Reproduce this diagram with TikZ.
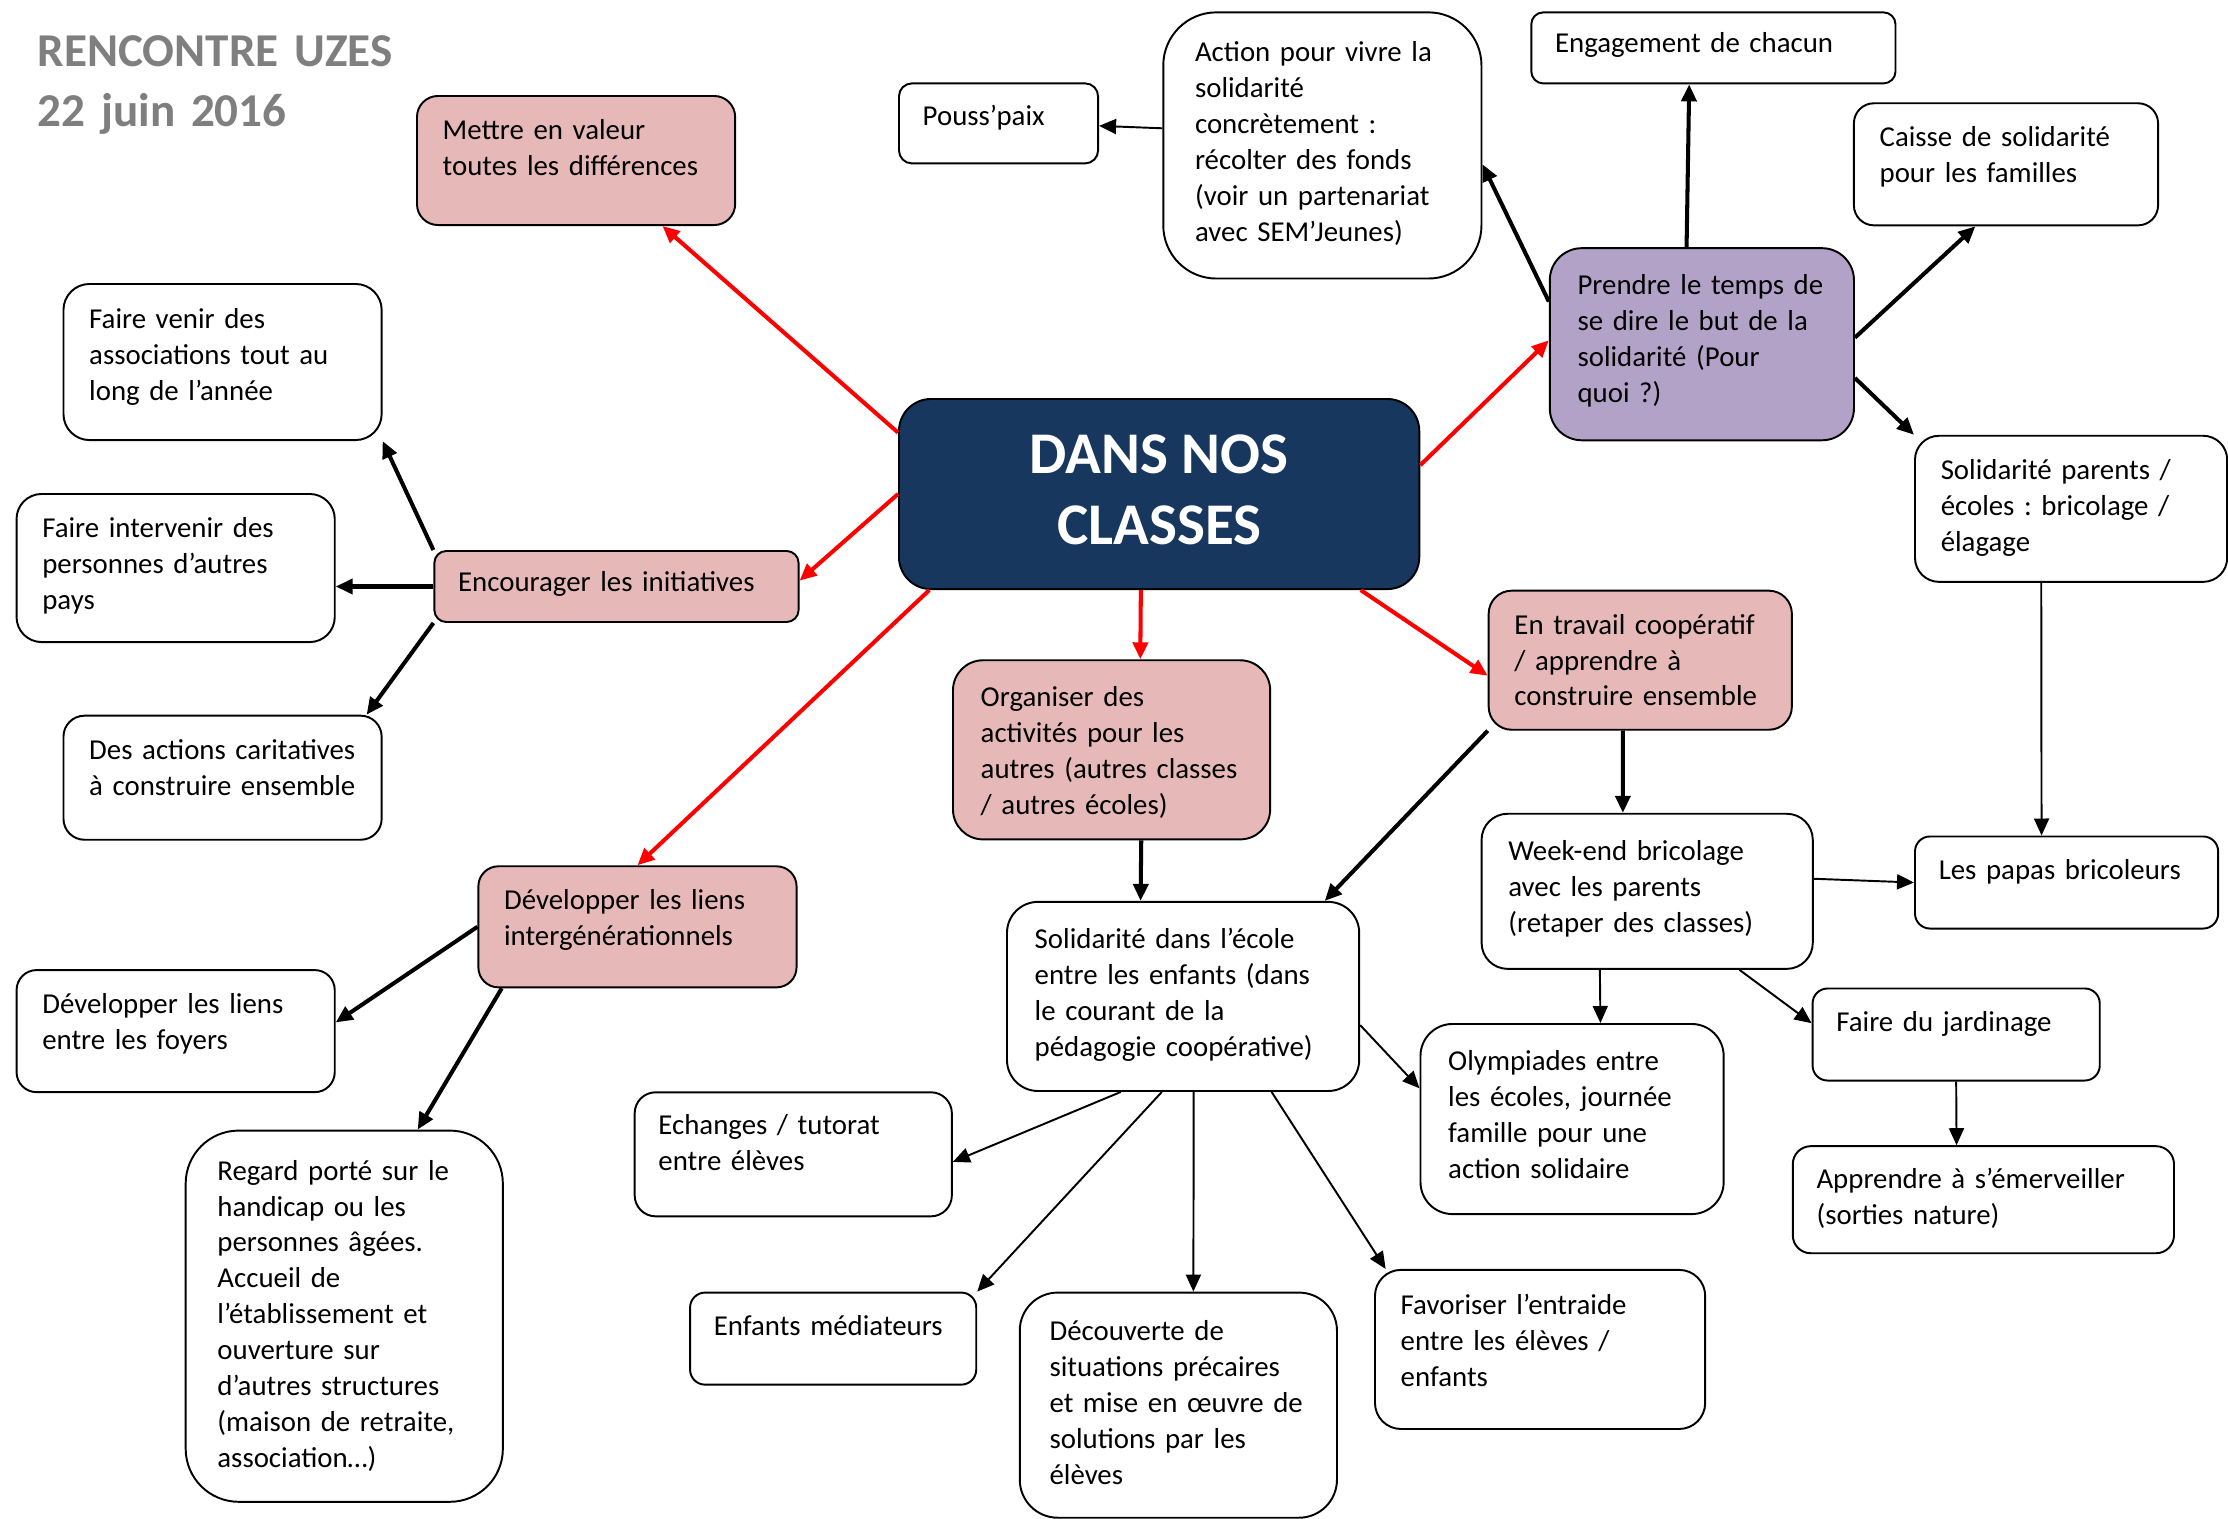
\documentclass[tikz,border=0pt]{standalone}
\usepackage{fontspec}
\setmainfont{Carlito}
\usepackage{tikz}
\usetikzlibrary{arrows.meta,calc}

\definecolor{cRose}{HTML}{E6B9B8}
\definecolor{cMauve}{HTML}{B3A2C7}
\definecolor{cMarine}{HTML}{17375E}
\definecolor{cGris}{HTML}{7F7F7F}
\newcommand{\corps}{\fontsize{8.2}{10.2}\selectfont}
\frenchspacing

\begin{document}
\begin{tikzpicture}[x=0.01cm, y=-0.01cm,
    >={Triangle[length=0.17cm,width=0.15cm]},
    box/.style={draw, line width=0.55pt, anchor=north west, inner sep=0pt, rounded corners=#1},
    box/.default=0.2cm,
    pinkbox/.style={fill=cRose},
    txt/.style={anchor=north west, text width=3.6cm, align=left, font=\corps,
      text height=6.2pt, inner xsep=0.26cm, inner ysep=0.22cm},
    txts/.style={txt, inner xsep=0.24cm, inner ysep=0.21cm},
    txtm/.style={txt, inner xsep=0.28cm, inner ysep=0.25cm},
    txtl/.style={txt, inner xsep=0.32cm, inner ysep=0.28cm},
    rouge/.style={->, draw=red, line width=1.15pt},
    noir/.style={->, line width=1.15pt},
    fin/.style={->, line width=0.55pt}]
    \useasboundingbox (0,0) rectangle (2228,1518);

    \node[anchor=base west, text width=6cm, align=left, inner sep=0pt, text=cGris,
      font=\fontsize{13.4}{17}\selectfont\bfseries] (titre) at (37,66.6) {RENCONTRE UZES\\22 juin 2016};

    \node[box=0.32cm, fill=cMarine, minimum width=5.2cm, minimum height=1.9cm,
      label={[anchor=center, align=center, yshift=0.04cm, text=white,
        font=\fontsize{16.8}{20.2}\selectfont\bfseries]center:{DANS NOS\\CLASSES}}] (centre) at (898,398) {};

    \node[box=0.21cm, pinkbox, minimum width=3.18cm, minimum height=1.29cm,
      label={[txt]north west:{Mettre en valeur\\toutes les différences}}] (mettre) at (416,95) {};
    \node[box=0.26cm, minimum width=3.18cm, minimum height=1.56cm,
      label={[txt, inner ysep=0.23cm]north west:{Faire venir des\\associations tout au\\long de l’année}}] (venir) at (62.5,283) {};
    \node[box=0.25cm, minimum width=3.18cm, minimum height=1.48cm,
      label={[txt]north west:{Faire intervenir des\\personnes d’autres\\pays}}] (intervenir) at (15.6,493) {};
    \node[box=0.12cm, pinkbox, minimum width=3.64cm, minimum height=0.71cm,
      label={[txts, inner ysep=0.19cm]north west:{Encourager les initiatives}}] (encourager) at (433.4,550) {};
    \node[box=0.21cm, minimum width=3.18cm, minimum height=1.24cm,
      label={[txt]north west:{Des actions caritatives\\à construire ensemble}}] (actions) at (62.5,714.7) {};
    \node[box=0.2cm, pinkbox, minimum width=3.18cm, minimum height=1.21cm,
      label={[txt]north west:{Développer les liens\\intergénérationnels}}] (liens) at (477.4,865.3) {};
    \node[box=0.2cm, minimum width=3.18cm, minimum height=1.22cm,
      label={[txt]north west:{Développer les liens\\entre les foyers}}] (foyers) at (15.6,969.1) {};
    \node[box=0.53cm, minimum width=3.17cm, minimum height=3.71cm,
      label={[txtl]north west:{Regard porté sur le\\handicap ou les\\personnes âgées.\\Accueil de\\l’établissement et\\ouverture sur\\d’autres structures\\(maison de retraite,\\association…)}}] (regard) at (184.7,1129.6) {};

    \node[box=0.13cm, minimum width=1.99cm, minimum height=0.8cm,
      label={[txts]north west:{Pouss’paix}}] (pousspaix) at (898,82.4) {};
    \node[box=0.53cm, minimum width=3.18cm, minimum height=2.66cm,
      label={[txtl]north west:{Action pour vivre la\\solidarité\\concrètement :\\récolter des fonds\\(voir un partenariat\\avec SEM’Jeunes)}}] (action) at (1162.3,11.4) {};
    \node[box=0.12cm, minimum width=3.64cm, minimum height=0.71cm,
      label={[txts, inner ysep=0.19cm]north west:{Engagement de chacun}}] (engagement) at (1530.3,11.4) {};
    \node[box=0.2cm, minimum width=3.04cm, minimum height=1.22cm,
      label={[txt]north west:{Caisse de solidarité\\pour les familles}}] (caisse) at (1852.9,102.3) {};
    \node[box=0.32cm, fill=cMauve, minimum width=3.04cm, minimum height=1.92cm,
      label={[txtm]north west:{Prendre le temps de\\se dire le but de la\\solidarité (Pour\\quoi ?)}}] (prendre) at (1548.8,247.2) {};
    \node[box=0.24cm, minimum width=3.12cm, minimum height=1.46cm,
      label={[txt]north west:{Solidarité parents /\\écoles : bricolage /\\élagage}}] (parents) at (1914,434.8) {};

    \node[box=0.23cm, pinkbox, minimum width=3.03cm, minimum height=1.39cm,
      label={[txt]north west:{En travail coopératif\\/ apprendre à\\construire ensemble}}] (travail) at (1487.7,589.7) {};
    \node[box=0.3cm, pinkbox, minimum width=3.17cm, minimum height=1.79cm,
      label={[txtm]north west:{Organiser des\\activités pour les\\autres (autres classes\\/ autres écoles)}}] (organiser) at (952,659.3) {};
    \node[box=0.31cm, minimum width=3.52cm, minimum height=1.89cm,
      label={[txtm]north west:{Solidarité dans l’école\\entre les enfants (dans\\le courant de la\\pédagogie coopérative)}}] (ecole) at (1006,900.9) {};
    \node[box=0.26cm, minimum width=3.31cm, minimum height=1.55cm,
      label={[txtm, inner xsep=0.27cm]north west:{Week-end bricolage\\avec les parents\\(retaper des classes)}}] (weekend) at (1480.6,812.8) {};
    \node[box=0.15cm, minimum width=3.03cm, minimum height=0.92cm,
      label={[txts]north west:{Les papas bricoleurs}}] (papas) at (1914,835.5) {};
    \node[box=0.15cm, minimum width=2.87cm, minimum height=0.92cm,
      label={[txts]north west:{Faire du jardinage}}] (jardinage) at (1811.6,987.5) {};
    \node[box=0.18cm, minimum width=3.81cm, minimum height=1.07cm,
      label={[txts]north west:{Apprendre à s’émerveiller\\(sorties nature)}}] (merveille) at (1791.8,1145.2) {};
    \node[box=0.32cm, minimum width=3.03cm, minimum height=1.9cm,
      label={[txtm]north west:{Olympiades entre\\les écoles, journée\\famille pour une\\action solidaire}}] (olympiades) at (1419.5,1023) {};
    \node[box=0.21cm, minimum width=3.17cm, minimum height=1.24cm,
      label={[txts]north west:{Echanges / tutorat\\entre élèves}}] (echanges) at (633.7,1091.3) {};
    \node[box=0.15cm, minimum width=2.86cm, minimum height=0.92cm,
      label={[txts]north west:{Enfants médiateurs}}] (mediateurs) at (689.1,1291.6) {};
    \node[box=0.38cm, minimum width=3.17cm, minimum height=2.25cm,
      label={[txtl, inner xsep=0.3cm, inner ysep=0.265cm]north west:{Découverte de\\situations précaires\\et mise en œuvre de\\solutions par les\\élèves}}] (decouverte) at (1018.8,1291.6) {};
    \node[box=0.26cm, minimum width=3.3cm, minimum height=1.59cm,
      label={[txt, inner ysep=0.23cm]north west:{Favoriser l’entraide\\entre les élèves /\\enfants}}] (entraide) at (1374,1268.9) {};

    \draw[rouge] ($(centre.north west)!0.18!(centre.south west)$) -- ($(mettre.south west)!0.77!(mettre.south east)$);
    \draw[rouge] (centre.west) -- ($(encourager.north east)!0.42!(encourager.south east)$);
    \draw[rouge] ($(centre.south west)!0.06!(centre.south east)$) -- (liens.north);
    \draw[rouge] ($(centre.south west)!0.465!(centre.south east)$) -- ($(organiser.north west)!0.59!(organiser.north east)$);
    \draw[rouge] ($(centre.south west)!0.886!(centre.south east)$) -- ($(travail.north west)!0.61!(travail.south west)$);
    \draw[rouge] ($(centre.north east)!0.35!(centre.south east)$) -- ($(prendre.north west)!0.48!(prendre.south west)$);

    \draw[noir] (encourager.north west) -- (venir.south east);
    \draw[noir] (encourager.west) -- (encourager.west -| intervenir.east);
    \draw[noir] (encourager.south west) -- ($(actions.north west)!0.95!(actions.north east)$);
    \draw[noir] (liens.west) -- ($(foyers.north east)!0.43!(foyers.south east)$);
    \draw[noir] ($(liens.south west)!0.076!(liens.south east)$) -- ($(regard.north west)!0.73!(regard.north east)$);
    \draw[noir] ($(prendre.north west)!0.28!(prendre.south west)$) -- ($(action.north east)!0.57!(action.south east)$);
    \draw[noir] ($(prendre.north west)!0.45!(prendre.north east)$) -- ($(engagement.south west)!0.434!(engagement.south east)$);
    \draw[noir] ($(prendre.north east)!0.466!(prendre.south east)$) -- ($(caisse.south west)!0.4!(caisse.south east)$);
    \draw[noir] ($(prendre.north east)!0.674!(prendre.south east)$) -- (parents.north west);
    \draw[noir] (travail.south west) -- ($(ecole.north west)!0.9!(ecole.north east)$);
    \draw[noir] ($(travail.south west)!0.443!(travail.south east)$) -- ($(weekend.north west)!0.427!(weekend.north east)$);
    \draw[noir] ($(organiser.south west)!0.593!(organiser.south east)$) -- ($(ecole.north west)!0.38!(ecole.north east)$);

    \draw[fin] ($(action.north west)!0.436!(action.south west)$) -- ($(pousspaix.north east)!0.53!(pousspaix.south east)$);
    \draw[fin] ($(parents.south west)!0.405!(parents.south east)$) -- ($(papas.north west)!0.418!(papas.north east)$);
    \draw[fin] ($(weekend.north east)!0.42!(weekend.south east)$) -- (papas.west);
    \draw[fin] ($(weekend.south west)!0.358!(weekend.south east)$) -- ($(olympiades.north west)!0.593!(olympiades.north east)$);
    \draw[fin] ($(weekend.south west)!0.777!(weekend.south east)$) -- ($(jardinage.north west)!0.38!(jardinage.south west)$);
    \draw[fin] (jardinage.south) -- ($(merveille.north west)!0.43!(merveille.north east)$);
    \draw[fin] ($(ecole.north east)!0.65!(ecole.south east)$) -- ($(olympiades.north west)!0.34!(olympiades.south west)$);
    \draw[fin] ($(ecole.south west)!0.324!(ecole.south east)$) -- ($(echanges.north east)!0.56!(echanges.south east)$);
    \draw[fin] ($(ecole.south west)!0.44!(ecole.south east)$) -- (mediateurs.north east);
    \draw[fin] ($(ecole.south west)!0.53!(ecole.south east)$) -- ($(decouverte.north west)!0.547!(decouverte.north east)$);
    \draw[fin] ($(ecole.south west)!0.75!(ecole.south east)$) -- ($(entraide.north west)!0.035!(entraide.north east)$);
  \end{tikzpicture}
\end{document}
